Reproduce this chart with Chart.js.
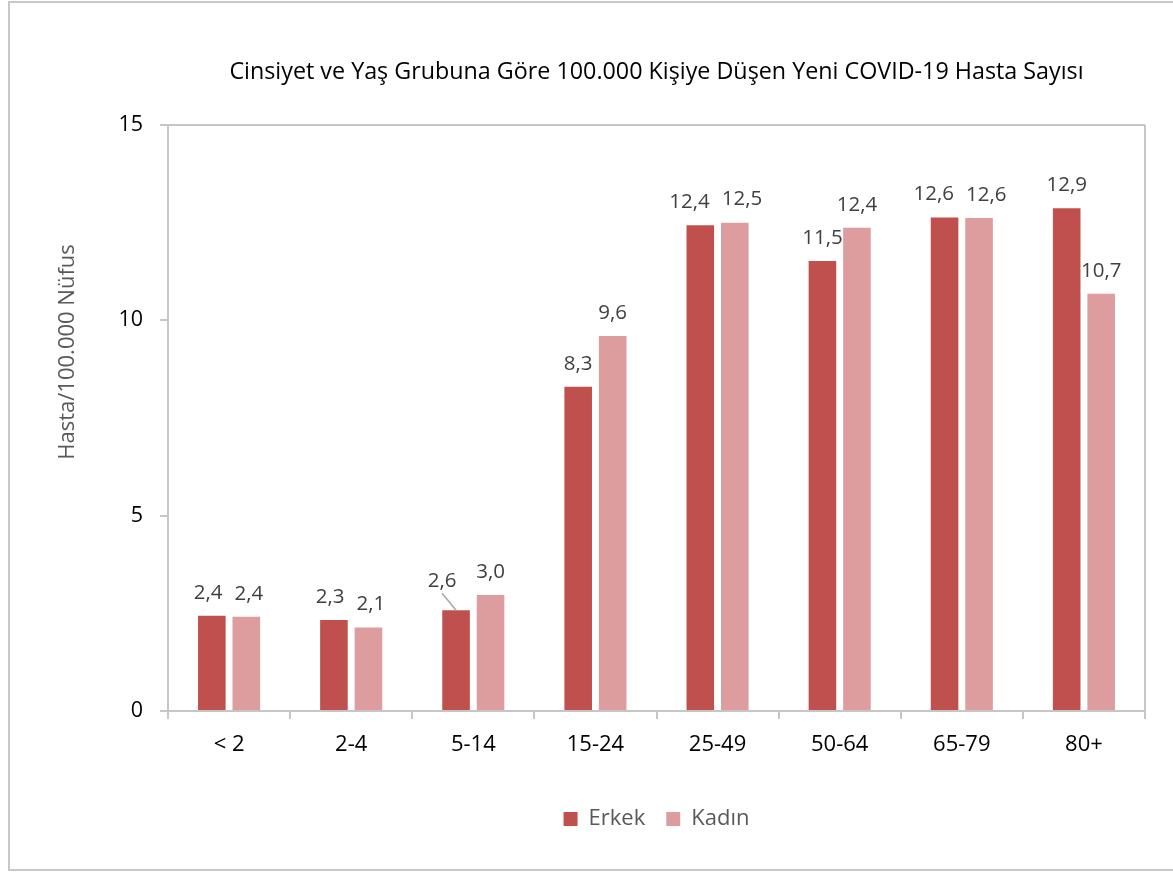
<!DOCTYPE html>
<html><head><meta charset="utf-8">
<script src="https://cdn.jsdelivr.net/npm/chart.js@4.4.1/dist/chart.umd.min.js"></script>
<style>html,body{margin:0;padding:0;background:#fff;overflow:hidden;}</style>
</head><body><canvas id="c" width="1173" height="872"></canvas>
<script>
const categories = ['< 2', '2-4', '5-14', '15-24', '25-49', '50-64', '65-79', '80+'];
const erkek = [2.44, 2.33, 2.58, 8.30, 12.43, 11.52, 12.63, 12.87];
const kadin = [2.41, 2.14, 2.97, 9.60, 12.50, 12.37, 12.62, 10.68];
const yTicks = [0, 5, 10, 15];
const seriesNames = ['Erkek', 'Kadın'];
const titleText = 'Cinsiyet ve Yaş Grubuna Göre 100.000 Kişiye Düşen Yeni COVID-19 Hasta Sayısı';
const yTitle = 'Hasta/100.000 Nüfus';

const FONT = 'Open Sans';
const AXIS = '#c6c6c6';

const decorPlugin = {
  id: 'decor',
  beforeDraw(chart) {
    const ctx = chart.ctx;
    ctx.save();
    ctx.strokeStyle = '#c8c8c8';
    ctx.lineWidth = 2;
    ctx.strokeRect(9, 2, 1200, 868);
    ctx.restore();
  },
  beforeDatasetsDraw(chart) {
    const ctx = chart.ctx, a = chart.chartArea;
    ctx.save();
    ctx.strokeStyle = AXIS;
    ctx.lineWidth = 2;
    ctx.beginPath();
    ctx.moveTo(a.left, a.top); ctx.lineTo(a.right, a.top);
    ctx.moveTo(a.right, a.top); ctx.lineTo(a.right, a.bottom);
    ctx.stroke();
    // y axis title
    ctx.translate(a.left - 100, a.top + 227);
    ctx.rotate(-Math.PI / 2);
    ctx.fillStyle = '#595959';
    ctx.font = '22px ' + FONT;
    ctx.textAlign = 'center';
    ctx.textBaseline = 'middle';
    ctx.fillText(yTitle, 0, 0);
    ctx.restore();
  },
  afterDatasetsDraw(chart) {
    const ctx = chart.ctx;
    ctx.save();
    ctx.font = '20.5px ' + FONT;
    ctx.fillStyle = '#404040';
    ctx.textAlign = 'center';
    ctx.textBaseline = 'middle';
    const m0 = chart.getDatasetMeta(0), m1 = chart.getDatasetMeta(1);
    const d0 = chart.data.datasets[0].data, d1 = chart.data.datasets[1].data;
    const fmt = v => v.toFixed(1).replace('.', ',');
    for (let i = 0; i < d0.length; i++) {
      const b0 = m0.data[i], b1 = m1.data[i];
      const t0 = fmt(d0[i]), t1 = fmt(d1[i]);
      let x0 = b0.x, y0 = b0.y - 23, x1 = b1.x, y1 = b1.y - 23;
      const w0 = ctx.measureText(t0).width, w1 = ctx.measureText(t1).width;
      if (i === 2) {
        x0 -= 14; y0 -= 6;
        ctx.save();
        ctx.strokeStyle = '#a6a6a6';
        ctx.lineWidth = 1.5;
        ctx.beginPath();
        ctx.moveTo(x0, y0 + 12);
        ctx.lineTo(b0.x, b0.y);
        ctx.stroke();
        ctx.restore();
      } else if (Math.abs(y0 - y1) < 22) {
        const need = (w0 + w1) / 2 + 12 - (x1 - x0);
        if (need > 0) { x0 -= need * 0.6; x1 += need * 0.4; }
      }
      ctx.fillText(t0, x0, y0);
      ctx.fillText(t1, x1, y1);
    }
    ctx.restore();
  }
};

new Chart(document.getElementById('c'), {
  type: 'bar',
  data: {
    labels: categories,
    datasets: [
      { label: seriesNames[0], data: erkek, backgroundColor: '#C0504D' },
      { label: seriesNames[1], data: kadin, backgroundColor: '#DD9D9F' }
    ]
  },
  options: {
    responsive: false,
    animation: false,
    devicePixelRatio: 1,
    layout: { padding: { left: 0, right: 28, top: 0, bottom: 32 } },
    datasets: { bar: { categoryPercentage: 0.565, barPercentage: 0.8 } },
    plugins: {
      tooltip: { enabled: false },
      title: {
        display: true, text: titleText, fullSize: false,
        color: '#000', font: { family: FONT, size: 23.3, weight: 'normal', lineHeight: 1.2 },
        padding: { top: 58, bottom: 39 }
      },
      legend: {
        position: 'bottom', fullSize: false,
        labels: {
          color: '#595959', font: { family: FONT, size: 22 },
          boxWidth: 14, boxHeight: 14, padding: 21
        }
      }
    },
    scales: {
      x: {
        grid: { display: true, offset: true, drawOnChartArea: false, drawTicks: true, tickLength: 8, color: AXIS, lineWidth: 2 },
        border: { display: true, color: AXIS, width: 2 },
        ticks: { color: '#000', font: { family: FONT, size: 22 }, padding: 13, maxRotation: 0 },
        afterFit(s) { s.height = 76; }
      },
      y: {
        min: 0, max: 15,
        afterBuildTicks(s) { s.ticks = yTicks.map(v => ({ value: v })); },
        grid: { display: true, drawOnChartArea: false, drawTicks: true, tickLength: 8, color: AXIS, lineWidth: 2 },
        border: { display: true, color: AXIS, width: 2 },
        ticks: { color: '#000', font: { family: FONT, size: 21.5 }, padding: 17 },
        afterFit(s) { s.width = 168; }
      }
    }
  },
  plugins: [decorPlugin]
});
</script>
</body></html>
